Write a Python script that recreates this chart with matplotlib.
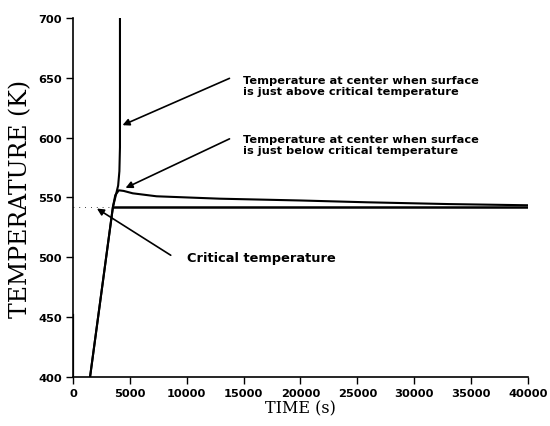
import numpy as np
import matplotlib.pyplot as plt

# centre temperature, surface just above critical
t_above = [1500, 3510, 3770, 3970, 4080, 4130, 4130]
T_above = [400, 542, 552, 560, 572, 592, 700]

# centre temperature, surface just below critical
t_below = [1500, 3510, 3720, 4030, 4450, 5250, 7350, 12900, 20000, 25800, 33000, 40000]
T_below = [400, 542, 552, 556, 555.5, 553.5, 551, 549, 547.5, 546, 544.5, 543.5]

# critical temperature
T_crit = 542
t_crit = [3510, 40000]

fig = plt.figure(figsize=(5.5, 4.27), dpi=100)
ax = fig.add_axes([0.1327, 0.1148, 0.8273, 0.8407])

ax.plot(t_above, T_above, color='black', lw=1.5)
ax.plot(t_below, T_below, color='black', lw=1.5)
ax.plot(t_crit, [T_crit, T_crit], color='black', lw=1.8)
ax.plot([0, 3510], [T_crit, T_crit], color='black', lw=0.6, ls=(0, (1, 6)))
ax.plot([0, 0], [400, 452], color='black', lw=1.6)

arr = dict(arrowstyle='-|>', color='black', lw=1.2, mutation_scale=10)
txt = dict(fontsize=8.2, fontweight='bold', family='DejaVu Sans', va='center', linespacing=1.15)

ax.annotate('', xy=(4130, 609.5), xytext=(13980, 650.5), arrowprops=arr)
ax.text(14950, 643.5, 'Temperature at center when surface\nis just above critical temperature', **txt)

ax.annotate('', xy=(4400, 557), xytext=(13980, 600), arrowprops=arr)
ax.text(14950, 594, 'Temperature at center when surface\nis just below critical temperature', **txt)

ax.annotate('', xy=(1900, 542), xytext=(8800, 500.5), arrowprops=arr)
ax.text(10050, 499.5, 'Critical temperature', fontsize=9.4, fontweight='bold',
        family='DejaVu Sans', va='center')

ax.set_xlim(0, 40000)
ax.set_ylim(400, 700)
ax.set_xticks(np.arange(0, 40001, 5000))
ax.set_yticks(np.arange(400, 701, 50))
ax.spines['top'].set_visible(False)
ax.spines['right'].set_visible(False)
ax.spines['left'].set_linewidth(1.2)
ax.spines['bottom'].set_linewidth(1.2)
ax.tick_params(direction='out', length=5, width=1, labelsize=8.2, pad=3)
for lab in ax.get_xticklabels() + ax.get_yticklabels():
    lab.set_fontweight('bold')

ax.set_xlabel('TIME (s)', family='DejaVu Serif', fontsize=11.5, labelpad=1)
ax.set_ylabel('TEMPERATURE (K)', family='DejaVu Serif', fontsize=17, labelpad=4)

fig.savefig('out.png', dpi=100)
